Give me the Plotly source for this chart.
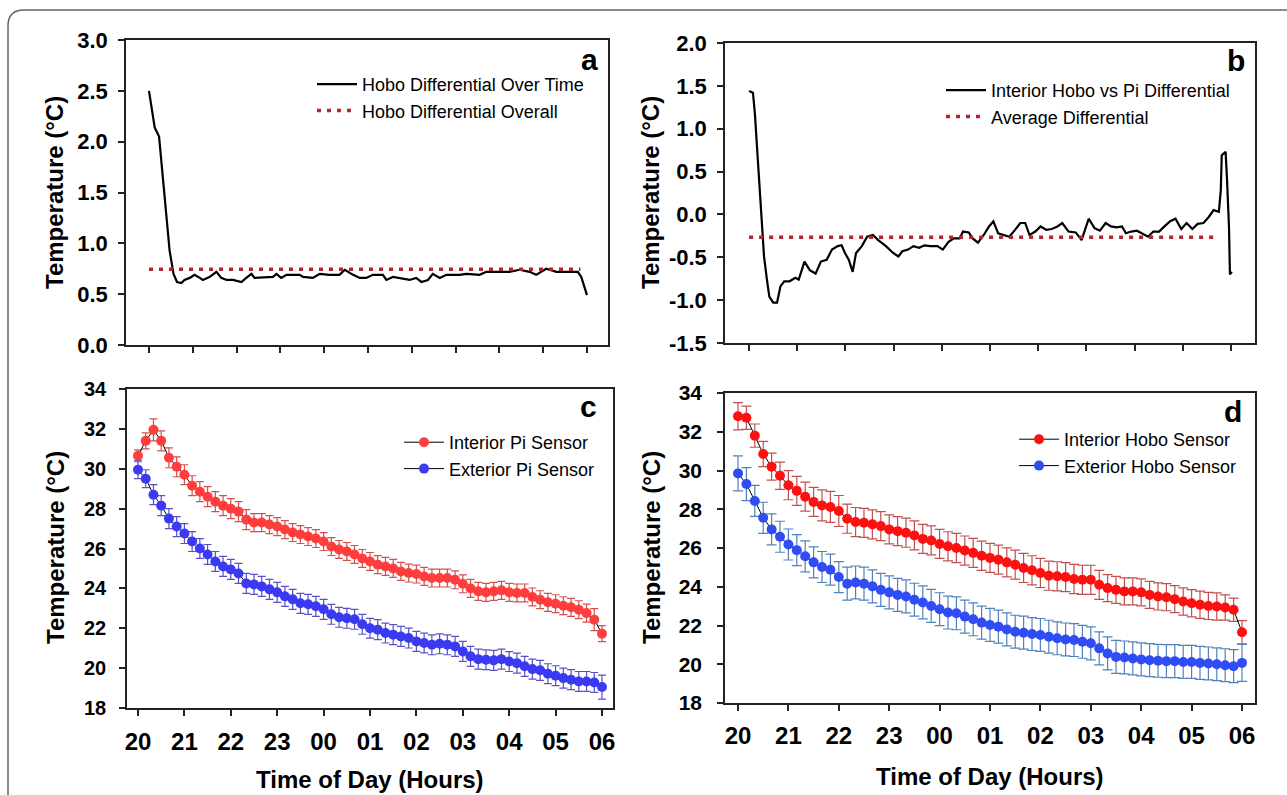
import plotly.graph_objects as go

W, H = 1287, 795

# ---------------- data ----------------
hour_ticks = [0, 1, 2, 3, 4, 5, 6, 7, 8, 9, 10]
hour_labels = ["20", "21", "22", "23", "00", "01", "02", "03", "04", "05", "06"]

# panel a: Hobo differential over time (hours after 20:00)
a_hours = [0.00, 0.13, 0.23, 0.30, 0.40, 0.47, 0.56, 0.64, 0.74, 0.81, 0.93, 1.04, 1.16, 1.23,
           1.39, 1.54, 1.65, 1.77, 1.92, 2.11, 2.22, 2.34, 2.41, 2.68, 2.83, 2.91, 3.02, 3.14,
           3.44, 3.52, 3.74, 3.90, 4.12, 4.35, 4.47, 4.66, 4.81, 4.96, 5.11, 5.34, 5.42, 5.57,
           5.72, 5.95, 6.10, 6.22, 6.37, 6.48, 6.64, 6.79, 7.09, 7.25, 7.55, 7.70, 8.01, 8.23,
           8.46, 8.69, 8.84, 9.07, 9.30, 9.53, 9.79, 9.87, 10.00]
a_diff = [2.50, 2.14, 2.05, 1.72, 1.26, 0.93, 0.70, 0.62, 0.61, 0.64, 0.66, 0.69, 0.66, 0.64,
          0.67, 0.72, 0.66, 0.64, 0.64, 0.62, 0.66, 0.70, 0.66, 0.67, 0.67, 0.70, 0.66, 0.69,
          0.69, 0.67, 0.66, 0.70, 0.69, 0.69, 0.74, 0.69, 0.66, 0.66, 0.69, 0.69, 0.64, 0.67,
          0.66, 0.64, 0.66, 0.62, 0.64, 0.70, 0.66, 0.69, 0.69, 0.70, 0.69, 0.72, 0.72, 0.72,
          0.74, 0.72, 0.69, 0.75, 0.72, 0.72, 0.72, 0.67, 0.49]
a_overall_x = [0.0, 9.85]
a_overall_y = [0.745, 0.745]

# panel b: interior Hobo vs Pi differential
b_hours = [0.00, 0.08, 0.12, 0.15, 0.19, 0.23, 0.27, 0.31, 0.37, 0.42,
           0.50, 0.58, 0.65, 0.73, 0.84, 0.96, 1.03, 1.15, 1.26, 1.38,
           1.49, 1.61, 1.72, 1.84, 1.92, 1.99, 2.07, 2.15, 2.22, 2.34,
           2.45, 2.57, 2.68, 2.84, 2.99, 3.10, 3.18, 3.30, 3.41, 3.53,
           3.64, 3.76, 3.91, 4.02, 4.14, 4.25, 4.37, 4.44, 4.56, 4.64,
           4.75, 4.87, 4.98, 5.07, 5.17, 5.29, 5.40, 5.52, 5.63, 5.73,
           5.82, 5.94, 6.05, 6.17, 6.28, 6.40, 6.50, 6.63, 6.78, 6.90,
           6.97, 7.05, 7.17, 7.28, 7.40, 7.51, 7.63, 7.74, 7.82, 7.93,
           8.05, 8.16, 8.28, 8.39, 8.51, 8.62, 8.74, 8.85, 8.97, 9.08,
           9.20, 9.31, 9.43, 9.54, 9.64, 9.75, 9.79, 9.81, 9.89, 9.92,
           9.96, 9.98, 10.02]
b_diff = [1.44, 1.42, 1.18, 0.87, 0.56, 0.21, -0.18, -0.49, -0.76, -0.96,
          -1.03, -1.03, -0.84, -0.78, -0.78, -0.74, -0.76, -0.55, -0.65, -0.69,
          -0.55, -0.53, -0.41, -0.37, -0.36, -0.45, -0.53, -0.67, -0.45, -0.37,
          -0.26, -0.24, -0.30, -0.37, -0.45, -0.49, -0.43, -0.41, -0.37, -0.39,
          -0.36, -0.37, -0.37, -0.41, -0.32, -0.28, -0.28, -0.20, -0.21, -0.28,
          -0.33, -0.24, -0.14, -0.08, -0.22, -0.24, -0.26, -0.18, -0.10, -0.10,
          -0.24, -0.20, -0.14, -0.18, -0.17, -0.14, -0.10, -0.20, -0.21, -0.30,
          -0.18, -0.05, -0.16, -0.19, -0.10, -0.14, -0.15, -0.14, -0.22, -0.20,
          -0.19, -0.22, -0.26, -0.20, -0.20, -0.14, -0.08, -0.05, -0.17, -0.10,
          -0.17, -0.11, -0.10, -0.03, 0.05, 0.03, 0.28, 0.69, 0.73, 0.40,
          -0.14, -0.70, -0.67]
b_avg_x = [0.0, 9.75]
b_avg_y = [-0.265, -0.265]

# panels c, d: 10-minute samples from 20:00 to 06:00
sample_hours = [i * 10 / 60 for i in range(61)]

c_interior = [30.65, 31.40, 31.95, 31.40, 30.55, 30.10, 29.70, 29.15, 28.85, 28.60, 28.35,
              28.15, 28.00, 27.85, 27.45, 27.30, 27.30, 27.20, 27.10, 26.95, 26.80, 26.70,
              26.60, 26.50, 26.35, 26.10, 25.95, 25.85, 25.70, 25.50, 25.35, 25.19, 25.10,
              25.00, 24.85, 24.77, 24.72, 24.60, 24.52, 24.52, 24.52, 24.43, 24.23, 24.00,
              23.85, 23.80, 23.85, 23.90, 23.80, 23.77, 23.77, 23.57, 23.43, 23.30, 23.23,
              23.13, 23.05, 22.93, 22.76, 22.43, 21.73]
c_interior_err = [0.30, 0.40, 0.55, 0.50, 0.50, 0.50, 0.50, 0.50, 0.50, 0.50, 0.50,
                  0.50, 0.50, 0.50, 0.50, 0.45, 0.45, 0.45, 0.45, 0.45, 0.45, 0.45,
                  0.45, 0.45, 0.45, 0.45, 0.45, 0.45, 0.45, 0.45, 0.45, 0.45, 0.45,
                  0.45, 0.45, 0.45, 0.45, 0.45, 0.45, 0.45, 0.45, 0.45, 0.45, 0.45,
                  0.45, 0.45, 0.45, 0.45, 0.45, 0.45, 0.45, 0.45, 0.45, 0.45, 0.45,
                  0.45, 0.45, 0.45, 0.45, 0.55, 0.40]
c_exterior = [29.95, 29.50, 28.70, 28.15, 27.50, 27.10, 26.75, 26.35, 26.00, 25.70, 25.35,
              25.10, 24.95, 24.75, 24.25, 24.20, 24.10, 23.95, 23.80, 23.60, 23.45, 23.25,
              23.20, 23.10, 22.95, 22.70, 22.55, 22.50, 22.45, 22.20, 22.00, 21.93, 21.76,
              21.68, 21.59, 21.51, 21.34, 21.26, 21.17, 21.22, 21.17, 21.09, 20.84, 20.59,
              20.45, 20.42, 20.39, 20.45, 20.33, 20.25, 20.09, 19.95, 19.89, 19.72, 19.62,
              19.50, 19.42, 19.33, 19.33, 19.28, 19.05]
c_exterior_err = [0.45, 0.45, 0.50, 0.50, 0.50, 0.50, 0.50, 0.50, 0.50, 0.50, 0.50,
                  0.50, 0.50, 0.50, 0.50, 0.50, 0.50, 0.50, 0.50, 0.50, 0.50, 0.50,
                  0.50, 0.50, 0.50, 0.50, 0.50, 0.50, 0.50, 0.50, 0.50, 0.50, 0.50,
                  0.50, 0.50, 0.50, 0.50, 0.50, 0.50, 0.50, 0.50, 0.50, 0.50, 0.50,
                  0.50, 0.50, 0.50, 0.50, 0.50, 0.50, 0.50, 0.50, 0.50, 0.50, 0.50,
                  0.50, 0.50, 0.50, 0.50, 0.50, 0.60]

d_interior = [32.80, 32.72, 31.80, 30.85, 30.20, 29.73, 29.24, 28.95, 28.65, 28.38, 28.20,
              28.12, 27.91, 27.51, 27.34, 27.30, 27.22, 27.13, 26.96, 26.87, 26.79, 26.65,
              26.47, 26.39, 26.21, 26.09, 26.00, 25.87, 25.75, 25.60, 25.49, 25.40, 25.26,
              25.14, 24.97, 24.85, 24.71, 24.57, 24.54, 24.50, 24.40, 24.36, 24.36, 24.10,
              23.93, 23.84, 23.76, 23.76, 23.71, 23.58, 23.50, 23.46, 23.36, 23.24, 23.15,
              23.07, 23.01, 22.98, 22.93, 22.81, 21.65]
d_interior_err = [0.70, 0.60, 0.60, 0.65, 0.70, 0.70, 0.75, 0.75, 0.75, 0.75, 0.80,
                  0.80, 0.80, 0.75, 0.75, 0.75, 0.75, 0.75, 0.75, 0.75, 0.75, 0.75,
                  0.75, 0.75, 0.75, 0.75, 0.75, 0.75, 0.75, 0.75, 0.75, 0.75, 0.75,
                  0.75, 0.75, 0.75, 0.75, 0.75, 0.75, 0.75, 0.75, 0.75, 0.75, 0.75,
                  0.70, 0.70, 0.70, 0.70, 0.70, 0.70, 0.70, 0.70, 0.70, 0.70, 0.70,
                  0.70, 0.70, 0.70, 0.65, 0.60, 0.60]
d_exterior = [29.85, 29.30, 28.43, 27.56, 26.96, 26.58, 26.18, 25.89, 25.57, 25.26, 25.02,
              24.88, 24.50, 24.16, 24.22, 24.16, 24.02, 23.84, 23.71, 23.58, 23.50, 23.33,
              23.19, 23.01, 22.84, 22.67, 22.63, 22.46, 22.32, 22.15, 22.03, 21.94, 21.80,
              21.68, 21.63, 21.56, 21.51, 21.42, 21.34, 21.28, 21.25, 21.16, 21.08, 20.82,
              20.56, 20.38, 20.35, 20.30, 20.25, 20.21, 20.18, 20.16, 20.16, 20.12, 20.12,
              20.07, 20.04, 20.00, 19.95, 19.90, 20.07]
d_exterior_err = [0.90, 0.85, 0.80, 0.80, 0.80, 0.80, 0.80, 0.80, 0.80, 0.80, 0.80,
                  0.80, 0.80, 0.85, 0.85, 0.85, 0.85, 0.85, 0.85, 0.85, 0.85, 0.85,
                  0.85, 0.85, 0.85, 0.85, 0.85, 0.85, 0.85, 0.85, 0.85, 0.85, 0.85,
                  0.85, 0.85, 0.85, 0.85, 0.85, 0.85, 0.85, 0.85, 0.85, 0.85, 0.85,
                  0.85, 0.85, 0.85, 0.85, 0.85, 0.85, 0.85, 0.85, 0.85, 0.85, 0.85,
                  0.85, 0.85, 0.85, 0.85, 0.85, 0.95]

# ---------------- helpers ----------------
def px(x):
    return x / W

def py(y):
    return 1 - y / H

FONT = "Arial, Liberation Sans, sans-serif"
AVG_RED = "#B3242E"

fig = go.Figure()

# panel a
fig.add_trace(go.Scatter(x=a_hours, y=a_diff, mode="lines", name="Hobo Differential Over Time",
                         line=dict(color="black", width=2.2), xaxis="x", yaxis="y", legend="legend"))
fig.add_trace(go.Scatter(x=a_overall_x, y=a_overall_y, mode="lines", name="Hobo Differential Overall",
                         line=dict(color=AVG_RED, width=3.5, dash="4px,6px"), xaxis="x", yaxis="y",
                         legend="legend"))
# panel b
fig.add_trace(go.Scatter(x=b_hours, y=b_diff, mode="lines",
                         name="Interior Hobo vs Pi Differential",
                         line=dict(color="black", width=2.2), xaxis="x2", yaxis="y2", legend="legend2"))
fig.add_trace(go.Scatter(x=b_avg_x, y=b_avg_y, mode="lines", name="Average Differential",
                         line=dict(color=AVG_RED, width=3.5, dash="4px,6px"), xaxis="x2", yaxis="y2",
                         legend="legend2"))
# panel c
fig.add_trace(go.Scatter(x=sample_hours, y=c_interior, mode="lines+markers", name="Interior Pi Sensor",
                         line=dict(color="black", width=1), marker=dict(color="#FF3D3D", size=10),
                         error_y=dict(type="data", array=c_interior_err, color="#D2504E", thickness=1.2, width=4),
                         xaxis="x3", yaxis="y3", legend="legend3"))
fig.add_trace(go.Scatter(x=sample_hours, y=c_exterior, mode="lines+markers", name="Exterior Pi Sensor",
                         line=dict(color="black", width=1), marker=dict(color="#3A3AF2", size=10),
                         error_y=dict(type="data", array=c_exterior_err, color="#5B4FC8", thickness=1.2, width=4),
                         xaxis="x3", yaxis="y3", legend="legend3"))
# panel d
fig.add_trace(go.Scatter(x=sample_hours, y=d_interior, mode="lines+markers", name="Interior Hobo Sensor",
                         line=dict(color="black", width=1), marker=dict(color="#FF0F0F", size=10),
                         error_y=dict(type="data", array=d_interior_err, color="#C0504D", thickness=1.2, width=5),
                         xaxis="x4", yaxis="y4", legend="legend4"))
fig.add_trace(go.Scatter(x=sample_hours, y=d_exterior, mode="lines+markers", name="Exterior Hobo Sensor",
                         line=dict(color="black", width=1), marker=dict(color="#2F4CF5", size=10),
                         error_y=dict(type="data", array=d_exterior_err, color="#4F81BD", thickness=1.2, width=5),
                         xaxis="x4", yaxis="y4", legend="legend4"))

AX = dict(showline=True, linecolor="#222", linewidth=1.5, mirror=True, ticks="outside",
          ticklen=6, tickwidth=1.5, tickcolor="#222", showgrid=False, zeroline=False,
          automargin=False)

def xax(dom, rng, labels, tick_size, standoff):
    return dict(AX, domain=dom, range=rng, tickmode="array", tickvals=hour_ticks,
                ticktext=hour_labels, showticklabels=labels,
                tickfont=dict(family=FONT, size=tick_size, color="black", weight="bold"),
                ticklabelstandoff=standoff)

def yax(dom, rng, tvals, fmt, size, standoff):
    return dict(AX, domain=dom, range=rng, tickmode="array", tickvals=tvals,
                ticktext=[format(v, fmt) for v in tvals],
                tickfont=dict(family=FONT, size=size, color="black", weight="bold"),
                ticklabelstandoff=standoff)

ya_ticks = [0.0, 0.5, 1.0, 1.5, 2.0, 2.5, 3.0]
yb_ticks = [-1.5, -1.0, -0.5, 0.0, 0.5, 1.0, 1.5, 2.0]
ycd_ticks = [18, 20, 22, 24, 26, 28, 30, 32, 34]

fig.update_layout(
    width=W, height=H, margin=dict(l=0, r=0, t=0, b=0, autoexpand=False),
    paper_bgcolor="white", plot_bgcolor="white",
    xaxis=dict(xax([px(126), px(608)], [-0.525, 10.48], False, 22, 12), anchor="y"),
    yaxis=dict(yax([py(345), py(40)], [0, 3], ya_ticks, ".1f", 22, 6), anchor="x"),
    xaxis2=dict(xax([px(725), px(1255)], [-0.5, 10.5], False, 22, 12), anchor="y2"),
    yaxis2=dict(yax([py(343), py(43)], [-1.5, 2.0], yb_ticks, ".1f", 22, 6), anchor="x2"),
    xaxis3=dict(xax([px(127), px(613)], [-0.237, 10.237], True, 24, 5), anchor="y3"),
    yaxis3=dict(yax([py(708), py(389)], [18, 34], ycd_ticks, "d", 20, 9), anchor="x3"),
    xaxis4=dict(xax([px(725), px(1255)], [-0.258, 10.258], True, 24, 4), anchor="y4"),
    yaxis4=dict(yax([py(703), py(393)], [18, 34], ycd_ticks, "d", 21, 11), anchor="x4"),
    showlegend=True,
)

LEG = dict(bgcolor="rgba(0,0,0,0)", borderwidth=0, xanchor="left", yanchor="top",
           font=dict(family=FONT, size=18, color="black"), tracegroupgap=0, itemwidth=40)
fig.update_layout(
    legend=dict(LEG, x=px(312), y=py(66)),
    legend2=dict(LEG, x=px(941), y=py(72)),
    legend3=dict(LEG, x=px(399), y=py(424)),
    legend4=dict(LEG, x=px(1014), y=py(421)),
)

ann = []
for txt, x, y in [("a", 589, 60), ("b", 1236, 61), ("c", 588, 406), ("d", 1233, 411)]:
    ann.append(dict(text=txt, x=px(x), y=py(y), xref="paper", yref="paper", showarrow=False,
                    xanchor="center", yanchor="middle",
                    font=dict(family=FONT, size=30, color="black", weight="bold")))
for x, y in [(55, 193), (651, 193), (55, 548), (651, 548)]:
    ann.append(dict(text="Temperature (°C)", x=px(x), y=py(y), xref="paper", yref="paper",
                    showarrow=False, textangle=-90, xanchor="center", yanchor="middle",
                    font=dict(family=FONT, size=24, color="black", weight="bold")))
for x, y in [(370, 779), (990, 776)]:
    ann.append(dict(text="Time of Day (Hours)", x=px(x), y=py(y), xref="paper", yref="paper",
                    showarrow=False, xanchor="center", yanchor="middle",
                    font=dict(family=FONT, size=24, color="black", weight="bold")))
fig.update_layout(annotations=ann)

# outer rounded frame of the figure
fig.add_shape(type="path", xref="paper", yref="paper",
              path=f"M {px(8)},{py(795)} L {px(8)},{py(26)} Q {px(8)},{py(10)} {px(24)},{py(10)} L {px(1287)},{py(10)}",
              line=dict(color="#666", width=1.5))

fig.write_html("out.html", config={"displayModeBar": False},
               post_script="document.body.style.margin='0px';document.body.style.overflow='hidden';")
